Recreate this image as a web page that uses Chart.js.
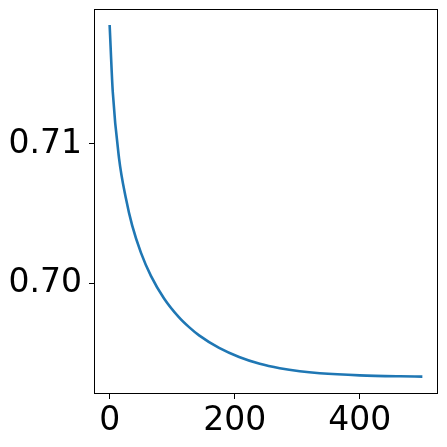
<!DOCTYPE html>
<html>
<head>
  <meta charset="UTF-8">
  <title>Decay curve</title>
  <script src="https://cdn.jsdelivr.net/npm/chart.js@4.4.4/dist/chart.umd.min.js"></script>
  <style>
    html, body { margin: 0; padding: 0; background: #fff; }
    #wrap { width: 447px; height: 447px; }
  </style>
</head>
<body>
<div id="wrap"><canvas id="curve"></canvas></div>

<script>
  // values
  const steps = [0, 5, 15, 26, 36, 50, 66, 87, 111, 127, 143, 175, 207, 240,
                 272, 304, 336, 400, 464, 500];
  const loss = [0.71854, 0.71375, 0.70899, 0.70610, 0.70415, 0.70220, 0.70053,
                0.69891, 0.69755, 0.69685, 0.69626, 0.69536, 0.69471, 0.69422,
                0.69390, 0.69368, 0.69354, 0.69339, 0.69332, 0.69330];
  const xTicks = [0, 200, 400];
  const yTicks = [0.70, 0.71];

  const points = steps.map((s, i) => ({ x: s, y: loss[i] }));

  // frame around the plot area (matplotlib style spines)
  const frame = {
    id: 'frame',
    afterDraw(chart) {
      const a = chart.chartArea, c = chart.ctx;
      c.save();
      c.strokeStyle = '#000';
      c.lineWidth = 1;
      c.strokeRect(a.left + 0.5, a.top + 0.5, a.right - a.left - 1, a.bottom - a.top - 1);
      c.restore();
    }
  };

  const tickFont = { family: 'DejaVu Sans', size: 33 };

  new Chart(document.getElementById('curve'), {
    type: 'line',
    data: {
      datasets: [{
        data: points,
        borderColor: '#1f77b4',
        borderWidth: 2.6,
        pointRadius: 0,
        fill: false,
        cubicInterpolationMode: 'monotone'
      }]
    },
    options: {
      responsive: true,
      maintainAspectRatio: false,
      animation: false,
      layout: { padding: { left: 0, top: 9, right: 9, bottom: 0 } },
      plugins: { legend: { display: false }, tooltip: { enabled: false } },
      scales: {
        x: {
          type: 'linear',
          min: -25,
          max: 525,
          afterBuildTicks: s => { s.ticks = xTicks.map(v => ({ value: v })); },
          afterFit: s => { s.height = 53; s.paddingLeft = 0; s.paddingRight = 0; },
          grid: { drawOnChartArea: false, drawTicks: true, tickLength: 5, color: '#000' },
          border: { display: false },
          ticks: { color: '#000', font: tickFont, padding: 3, maxRotation: 0 }
        },
        y: {
          type: 'linear',
          min: 0.69205,
          max: 0.71969,
          afterBuildTicks: s => { s.ticks = yTicks.map(v => ({ value: v })); },
          afterFit: s => { s.width = 94; s.paddingTop = 0; s.paddingBottom = 0; },
          grid: { drawOnChartArea: false, drawTicks: true, tickLength: 5, color: '#000' },
          border: { display: false },
          ticks: {
            color: '#000', font: tickFont, padding: 7,
            callback: v => v.toFixed(2)
          }
        }
      }
    },
    plugins: [frame]
  });
</script>
</body>
</html>
